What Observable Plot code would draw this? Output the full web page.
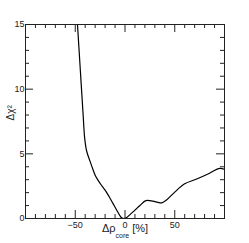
<!DOCTYPE html>
<html>
<head>
<meta charset="utf-8">
<script src="https://cdn.jsdelivr.net/npm/d3@7"></script>
<script src="https://cdn.jsdelivr.net/npm/@observablehq/plot@0.6"></script>
<style>
  html, body { margin: 0; padding: 0; background: #fff; }
</style>
</head>
<body>
<div id="chart"></div>
<script>
// Data
const rhoCore = [-48, -45, -42, -40.5, -38.5, -35, -32, -30, -27, -23.5, -20, -16, -12, -8, -4, -1.5, 1, 5, 10, 15, 21, 28, 33, 37, 42, 50, 60, 72, 85, 95, 100];
const deltaChi2 = [15.3, 11.6, 7.9, 6.2, 5.2, 4.4, 3.75, 3.35, 2.95, 2.55, 2.2, 1.7, 1.15, 0.6, 0.1, 0, 0.05, 0.3, 0.65, 1.0, 1.38, 1.34, 1.25, 1.21, 1.45, 2.04, 2.68, 3.05, 3.5, 3.88, 3.8];
const xMajorTicks = [-50, 0, 50];
const xMinorTicks = [-90, -80, -70, -60, -40, -30, -20, -10, 10, 20, 30, 40, 60, 70, 80, 90];
const yMajorTicks = [0, 5, 10, 15];
const yMinorTicks = [1, 2, 3, 4, 6, 7, 8, 9, 11, 12, 13, 14];
const xTitle = "Δρ core [%]";
const yTitle = "Δχ²";

const data = rhoCore.map((x, i) => ({x, y: deltaChi2[i]}));

const W = 249, H = 243;
const mL = 25, mR = 25, mT = 24, mB = 25;
const fw = W - mL - mR, fh = H - mT - mB;
const major = 8, minor = 4;
const axisColor = "#222";

const plot = Plot.plot({
  width: W,
  height: H,
  marginLeft: mL,
  marginRight: mR,
  marginTop: mT,
  marginBottom: mB,
  style: {fontFamily: "'Liberation Sans', Arial, sans-serif", fontSize: "9px", color: "#222", background: "#fff"},
  x: {domain: [-100, 100]},
  y: {domain: [0, 15]},
  marks: [
    Plot.line(data, {x: "x", y: "y", curve: "catmull-rom", stroke: "black", strokeWidth: 1.2, clip: true}),
    // bottom ticks
    Plot.ruleX(xMajorTicks, {stroke: axisColor, insetTop: fh - major}),
    Plot.ruleX(xMinorTicks, {stroke: axisColor, insetTop: fh - minor}),
    // top ticks
    Plot.ruleX(xMajorTicks, {stroke: axisColor, insetBottom: fh - major}),
    Plot.ruleX(xMinorTicks, {stroke: axisColor, insetBottom: fh - minor}),
    // left ticks
    Plot.ruleY(yMajorTicks, {stroke: axisColor, insetRight: fw - major}),
    Plot.ruleY(yMinorTicks, {stroke: axisColor, insetRight: fw - minor}),
    // right ticks
    Plot.ruleY(yMajorTicks, {stroke: axisColor, insetLeft: fw - major}),
    Plot.ruleY(yMinorTicks, {stroke: axisColor, insetLeft: fw - minor}),
    Plot.frame({stroke: axisColor}),
    Plot.axisX({ticks: xMajorTicks, tickSize: 0, tickPadding: 3, label: null, fontSize: 9}),
    Plot.axisY({ticks: yMajorTicks, tickSize: 0, tickPadding: 1, label: null, fontSize: 9}),
    Plot.text([xTitle], {frameAnchor: "bottom", dy: 13.5, fontSize: 11, fill: "#222"}),
    Plot.text([yTitle], {frameAnchor: "left", dx: -14.5, dy: -1, rotate: -90, fontSize: 10, fill: "#222"})
  ]
});

// Turn "core" into a subscript
d3.select(plot).selectAll("text").filter(function() { return this.textContent === xTitle; })
  .each(function() {
    const t = d3.select(this);
    t.text(null);
    t.append("tspan").text("Δρ");
    t.append("tspan").attr("font-size", 7).attr("dy", 6).text("core");
    t.append("tspan").attr("dy", -6).text(" [%]");
  });

document.getElementById("chart").appendChild(plot);
</script>
</body>
</html>
